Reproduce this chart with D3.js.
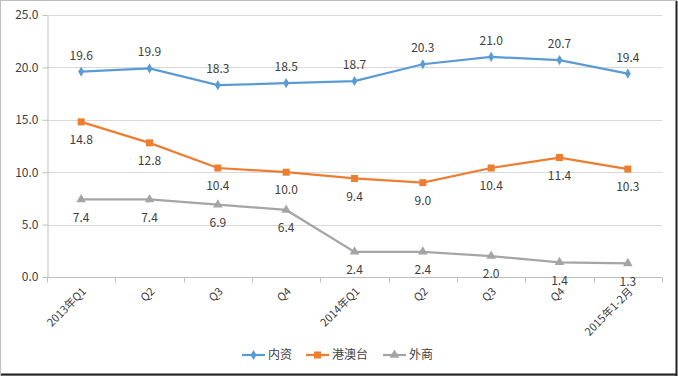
<!DOCTYPE html>
<html><head><meta charset="utf-8">
<script src="https://cdn.jsdelivr.net/npm/d3@7"></script>
<style>body{margin:0;background:#fff}svg{display:block}</style>
</head><body>
<svg id="c" width="678" height="377"></svg>
<script>
const categories = ["2013年Q1","Q2","Q3","Q4","2014年Q1","Q2","Q3","Q4","2015年1-2月"];
const domestic = [19.6,19.9,18.3,18.5,18.7,20.3,21.0,20.7,19.4];
const hkMacauTw = [14.8,12.8,10.4,10.0,9.4,9.0,10.4,11.4,10.3];
const foreign = [7.4,7.4,6.9,6.4,2.4,2.4,2.0,1.4,1.3];
const seriesNames = ["内资","港澳台","外商"];
const yTicks = [0,5,10,15,20,25];

const font = "'Noto Sans CJK SC','Noto Sans',sans-serif";
const svg = d3.select("#c");
const W = 678, H = 377;
const m = {l:47, r:16, t:15, b:100};

svg.append("rect").attr("x",0.5).attr("y",0.5).attr("width",W-2).attr("height",H-2)
  .attr("fill","#fff").attr("stroke","#bfbfbf");
svg.append("line").attr("x1",W-1.5).attr("x2",W-1.5).attr("y1",1).attr("y2",H-1).attr("stroke","#222").attr("stroke-width",2);
svg.append("line").attr("x1",1).attr("x2",W-1).attr("y1",H-2.5).attr("y2",H-2.5).attr("stroke","#222").attr("stroke-width",2);

const x = d3.scaleBand().domain(d3.range(categories.length)).range([m.l, W-m.r]);
const y = d3.scaleLinear().domain([0,25]).range([277,15]);

// gridlines
svg.append("g").selectAll("line").data(yTicks.slice(1)).join("line")
  .attr("x1",m.l).attr("x2",W-m.r).attr("y1",d=>Math.round(y(d))+0.5).attr("y2",d=>Math.round(y(d))+0.5)
  .attr("stroke","#d9d9d9");

// y axis
const ya = svg.append("g").attr("transform",`translate(${m.l+0.5},0)`)
  .call(d3.axisLeft(y).tickValues(yTicks).tickFormat(d3.format(".1f")).tickSize(5).tickSizeOuter(0));
ya.select(".domain").attr("stroke","#bfbfbf");
ya.selectAll(".tick line").attr("stroke","#bfbfbf");
ya.selectAll(".tick text").attr("x",-9).attr("font-size",12).attr("font-family",font).attr("fill","#404040");

// x axis
const xa = svg.append("g").attr("transform",`translate(0,${Math.round(y(0))+0.5})`);
xa.append("line").attr("x1",m.l).attr("x2",W-m.r).attr("stroke","#bfbfbf");
const bounds = d3.range(categories.length+1).map(i => i<categories.length ? x(i) : x(categories.length-1)+x.bandwidth());
xa.selectAll("line.t").data(bounds).join("line").attr("class","t")
  .attr("x1",d=>Math.round(d)+0.5).attr("x2",d=>Math.round(d)+0.5).attr("y1",0).attr("y2",5).attr("stroke","#bfbfbf");
xa.selectAll("text").data(categories).join("text")
  .attr("transform",(d,i)=>`translate(${x(i)+x.bandwidth()/2+3},12) rotate(-45)`)
  .attr("text-anchor","end").attr("dy","0.35em")
  .attr("font-size",11).attr("font-family",font).attr("fill","#404040").text(d=>d);

const colors = ["#5b9bd5","#ed7d31","#a5a5a5"];
const data = [domestic, hkMacauTw, foreign];
const line = d3.line().x((d,i)=>x(i)+x.bandwidth()/2).y(d=>y(d));

data.forEach((vals, s) => {
  svg.append("path").datum(vals).attr("d",line).attr("fill","none").attr("stroke",colors[s]).attr("stroke-width",2.25);
  const g = svg.append("g");
  vals.forEach((v,i) => {
    const cx = x(i)+x.bandwidth()/2, cy = y(v);
    if (s===0) {
      g.append("path").attr("d",d3.symbol(d3.symbolDiamond,30)()).attr("transform",`translate(${cx},${cy})`).attr("fill",colors[s]);
    } else if (s===1) {
      g.append("rect").attr("x",cx-3.5).attr("y",cy-3.5).attr("width",7).attr("height",7).attr("fill",colors[s]);
    } else {
      g.append("path").attr("d",d3.symbol(d3.symbolTriangle,40)()).attr("transform",`translate(${cx},${cy})`).attr("fill",colors[s]);
    }
    g.append("text").attr("x",cx).attr("y", s===0 ? cy-12 : cy+18)
      .attr("text-anchor","middle").attr("dy", s===0 ? "0" : "0.35em")
      .attr("font-size",12).attr("font-family",font).attr("fill","#404040").text(d3.format(".1f")(v));
  });
});

// legend
const legX = [242, 306, 383];
const lg = svg.append("g");
seriesNames.forEach((n,s) => {
  const lx = legX[s], ly = 355;
  lg.append("line").attr("x1",lx).attr("x2",lx+23).attr("y1",ly).attr("y2",ly).attr("stroke",colors[s]).attr("stroke-width",2.25);
  const cx = lx+11.5;
  if (s===0) lg.append("path").attr("d",d3.symbol(d3.symbolDiamond,30)()).attr("transform",`translate(${cx},${ly})`).attr("fill",colors[s]);
  else if (s===1) lg.append("rect").attr("x",cx-3.5).attr("y",ly-3.5).attr("width",7).attr("height",7).attr("fill",colors[s]);
  else lg.append("path").attr("d",d3.symbol(d3.symbolTriangle,40)()).attr("transform",`translate(${cx},${ly})`).attr("fill",colors[s]);
  lg.append("text").attr("x",lx+26).attr("y",ly).attr("dy","0.35em").attr("font-size",12)
    .attr("font-family",font).attr("fill","#404040").text(n);
});
</script>
</body></html>
